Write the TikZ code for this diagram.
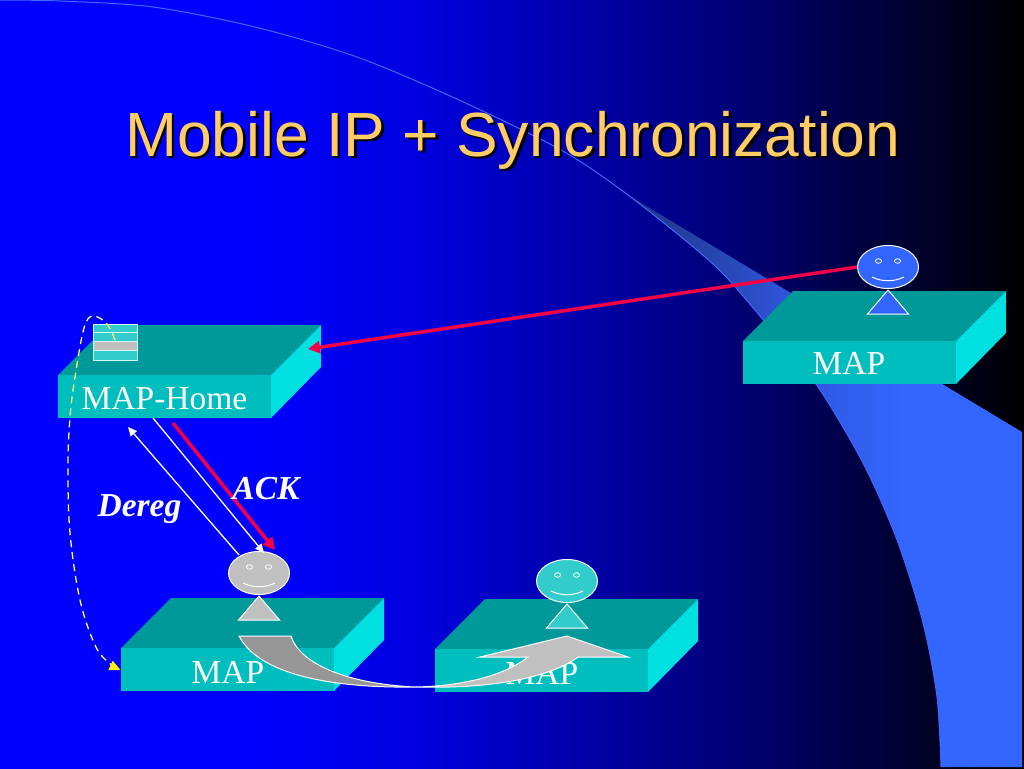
\documentclass[tikz,border=0pt]{standalone}
\usepackage{fontspec}
\setmainfont{Liberation Serif}
\newfontfamily\titlefont{Liberation Sans}
\usetikzlibrary{arrows.meta,shapes.geometric}
\definecolor{frontc}{RGB}{0,190,190}
\definecolor{topc}{RGB}{0,153,153}
\definecolor{sidec}{RGB}{0,224,224}
\definecolor{titlec}{RGB}{255,204,102}
\definecolor{redc}{RGB}{245,0,70}
\definecolor{grayc}{RGB}{192,192,192}
\definecolor{dgrayc}{RGB}{150,150,150}
\definecolor{tealc}{RGB}{51,204,204}
\definecolor{bluec}{RGB}{51,102,255}
\definecolor{yelc}{RGB}{255,255,120}
\definecolor{linec}{RGB}{65,105,250}
\pgfdeclarehorizontalshading{bgshade}{100bp}{rgb(0bp)=(0,0,1); rgb(25bp)=(0,0,1); rgb(37.2bp)=(0,0,1); rgb(45.5bp)=(0,0,.87); rgb(60.2bp)=(0,0,.48); rgb(71.4bp)=(0,0,.12); rgb(75bp)=(0,0,0); rgb(100bp)=(0,0,0)}
\pgfdeclarehorizontalshading{crescent}{100bp}{rgb(0bp)=(.12,.2,.5); rgb(25bp)=(.12,.2,.5); rgb(45bp)=(.18,.33,.85); rgb(60bp)=(.2,.4,1); rgb(100bp)=(.2,.4,1)}
\tikzset{
  x=1pt,y=-1pt,
  head/.style={ellipse,draw=white,line width=1pt,minimum width=61pt,minimum height=43pt,inner sep=0pt},
  eye/.style={draw=white,line width=.8pt},
  bodytri/.style={draw=white,line width=1pt},
  maplabel/.style={text=white,font=\fontsize{33.5}{36}\selectfont,inner sep=0pt,anchor=base},
  talk/.style={text=white,font=\fontsize{33.5}{36}\selectfont\bfseries\itshape,inner sep=0pt,anchor=base},
  redarrow/.style={draw=redc,line width=3.5pt,-{Triangle[length=12pt,width=12pt]}},
  whitearrow/.style={draw=white,line width=1.3pt,-{Triangle[length=9pt,width=8pt]}},
  curved/.style={draw=white,line width=1pt,line join=miter},
}
\newcommand{\platform}[2]{%
  \fill[topc] (#1,#2) -- (#1+50,#2-50) -- (#1+263,#2-50) -- (#1+213,#2) -- cycle;
  \fill[sidec] (#1+213,#2) -- (#1+263,#2-50) -- (#1+263,#2-8) -- (#1+213,#2+43) -- cycle;
  \fill[frontc] (#1,#2) rectangle (#1+213,#2+43);
}
\newcommand{\person}[4]{% name, x, y of head centre, colour
  \node[head,fill=#4] (#1) at (#2,#3) {};
  \draw[eye,fill=#4] (#2-9.5,#3-6) ellipse (3pt and 2.3pt);
  \draw[eye,fill=#4] (#2+9.5,#3-6) ellipse (3pt and 2.3pt);
  \draw[white,line width=1pt] (#2-16,#3+10) .. controls (#2-6,#3+15) and (#2+6,#3+15) .. (#2+16,#3+10);
  \draw[bodytri,fill=#4] (#2,#3+23) -- (#2+20.5,#3+47) -- (#2-20.5,#3+47) -- cycle;
}
\begin{document}
\begin{tikzpicture}
\useasboundingbox (0,0) rectangle (1024,768);
\path[shading=bgshade] (0,0) rectangle (1024,768);
% crescent
\path[shading=crescent]
  plot[smooth] coordinates {(628,195) (714,265) (765,322) (816,384) (863,463) (897,540) (923,623) (937,697) (941,767)}
  -- (1022,767) -- (1022,432) -- cycle;
\draw[linec,line width=1pt] plot[smooth] coordinates {(0,0) (60,1) (153,7) (255,27) (357,57) (459,100) (561,150) (628,195) (714,265) (765,322) (816,384) (863,463) (897,540) (923,623) (937,697) (941,767)};
% title
\node[anchor=base west,inner sep=0pt,text=black,font=\titlefont\fontsize{62.4}{70}\selectfont] (titleshadow) at (127.5,158.5) {Mobile IP + Synchronization};
\node[anchor=base west,inner sep=0pt,text=titlec,font=\titlefont\fontsize{62.4}{70}\selectfont] (title) at (125,156) {Mobile IP + Synchronization};
% platforms
\platform{58}{375}
\platform{121}{648}
\platform{435}{649}
\platform{743}{341}
\node[maplabel] (homelabel) at (164.5,409) {MAP-Home};
\node[maplabel] (mapa) at (228,683) {MAP};
\node[maplabel] (mapb) at (542,684) {MAP};
\node[maplabel] (mapc) at (849,374) {MAP};
% table icon
\fill[tealc] (93,324) rectangle (137,360);
\fill[grayc] (93,341) rectangle (137,350);
\draw[white!80!tealc,line width=1pt] (93,324) rectangle (137,360) (93,332) -- (137,332) (93,341) -- (137,341) (93,350) -- (137,350);
% persons
\person{pa}{259}{573}{grayc}
\person{pb}{567}{581}{tealc}
\person{pc}{888}{267}{bluec}
% end points
\coordinate (homeside) at (308,349);
\coordinate (homebase) at (173,423);
\coordinate (ackend) at (275,550);
\coordinate (deregstart) at (239,555);
\coordinate (deregend) at (128,427);
\coordinate (regstart) at (153,418);
\coordinate (regend) at (264,553);
\coordinate (iconpt) at (115,340);
\coordinate (mapapt) at (120.5,670);
% connectors
\draw[redarrow] (pc.west) -- (homeside);
\draw[redarrow] (homebase) -- (ackend);
\draw[whitearrow] (deregstart) -- (deregend);
\draw[whitearrow] (regstart) -- (regend);
\draw[yelc,line width=1.3pt,dash pattern=on 7pt off 5pt,-{Triangle[length=11pt,width=10pt,fill=yellow,color=yellow]}]
  plot[smooth,tension=.6] coordinates {(iconpt) (107,324) (93,316) (84,328) (75,377) (70,417) (68,467) (70,533) (80,600) (95,645) (108,662) (mapapt)};
% labels
\node[talk] (dereg) at (139.5,516) {Dereg};
\node[talk] (ack) at (266,499) {ACK};
% curved arrow
\draw[curved,fill=dgrayc] (239,636) -- (291,636) .. controls (300,665) and (350,684) .. (415,687) .. controls (350,688) and (262,680) .. (239,636) -- cycle;
\draw[curved,fill=grayc] (415,687) .. controls (465,686) and (505,675) .. (528,657) -- (480,657) -- (567,636) -- (628,657) -- (578,657) .. controls (550,678) and (490,689) .. (415,687) -- cycle;
\end{tikzpicture}
\end{document}
